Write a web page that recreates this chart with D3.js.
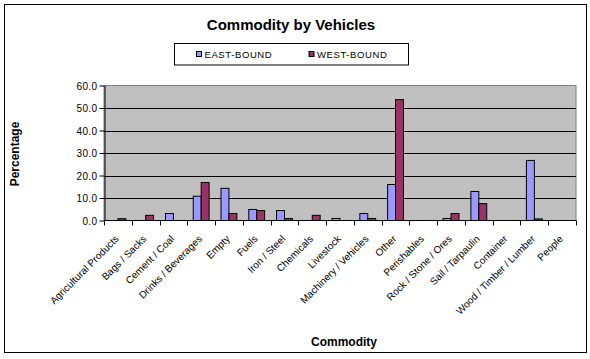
<!DOCTYPE html>
<html><head><meta charset="utf-8">
<script src="https://cdn.jsdelivr.net/npm/d3@7"></script>
<style>
html,body{margin:0;padding:0;background:#fff;}
svg{display:block;font-family:"Liberation Sans",Arial,sans-serif;}
</style></head>
<body>
<svg id="chart" width="590" height="359"></svg>
<script>
const categories = ["Agricultural Products","Bags / Sacks","Cement / Coal","Drinks / Beverages","Empty","Fuels","Iron / Steel","Chemicals","Livestock","Machinery / Vehicles","Other","Perishables","Rock / Stone / Ores","Sail / Tarpaulin","Container","Wood / Timber / Lumber","People"];
const eastBound = [0, 0, 3.1, 10.8, 14.3, 4.9, 4.4, 0, 0.9, 3.1, 16.0, 0, 0.9, 12.9, 0, 26.7, 0];
const westBound = [0.8, 2.3, 0, 16.9, 3.1, 4.4, 0.9, 2.3, 0, 0.9, 53.7, 0, 3.1, 7.5, 0, 0.7, 0];
const seriesNames = ["EAST-BOUND","WEST-BOUND"];
const seriesColors = ["#9999FF","#993366"];
const yTicks = [0,10,20,30,40,50,60];

const svg = d3.select("#chart");
// outer border
svg.append("rect").attr("x",4.5).attr("y",4.5).attr("width",582).attr("height",348)
  .attr("fill","#fff").attr("stroke","#000").attr("stroke-width",1);

const L=104, R=576, T=85.5, B=220.5;
const x0 = d3.scaleBand().domain(categories).range([L,R]).paddingInner(0.4286).paddingOuter(0.2143);
const x1 = d3.scaleBand().domain(seriesNames).range([0,x0.bandwidth()]);
const y = d3.scaleLinear().domain([0,60]).range([B,T]);

// plot area
svg.append("rect").attr("x",L).attr("y",T).attr("width",R-L).attr("height",B-T)
  .attr("fill","#C0C0C0").attr("stroke","#808080").attr("stroke-width",1);

// gridlines
svg.append("g").selectAll("line").data(yTicks.filter(d=>d>0 && d<60)).join("line")
  .attr("x1",L).attr("x2",R).attr("y1",d=>Math.round(y(d))+0.5).attr("y2",d=>Math.round(y(d))+0.5)
  .attr("stroke","#000").attr("stroke-width",1);

// bars
const data = categories.map((c,i)=>({c, vals:[eastBound[i],westBound[i]]}));
const g = svg.append("g");
data.forEach(d=>{
  d.vals.forEach((v,j)=>{
    if(v<=0) return;
    g.append("rect")
      .attr("x", x0(d.c)+x1(seriesNames[j]))
      .attr("y", y(v))
      .attr("width", x1.bandwidth())
      .attr("height", y(0)-y(v))
      .attr("fill", seriesColors[j]).attr("stroke","#000").attr("stroke-width",1);
  });
});

// y axis
const yAxis = d3.axisLeft(y).tickValues(yTicks).tickSize(5).tickSizeOuter(0).tickFormat(d3.format(".1f"));
const ya = svg.append("g").attr("transform",`translate(${L+0.5},0)`).call(yAxis);
ya.select(".domain").attr("stroke","#000");
ya.selectAll("line").attr("stroke","#000");
ya.selectAll("text").attr("font-size","10px").attr("letter-spacing","0.4px").attr("fill","#000").attr("x",-7).attr("dy","0.35em");

// x axis with ticks between categories
const xa = svg.append("g");
xa.append("line").attr("x1",L).attr("x2",R).attr("y1",B).attr("y2",B).attr("stroke","#000");
const step = x0.step();
const bounds = d3.range(categories.length+1).map(i=>L+i*step);
xa.selectAll("line.tick").data(bounds).join("line").attr("class","tick")
  .attr("x1",d=>Math.round(d)+0.5).attr("x2",d=>Math.round(d)+0.5).attr("y1",B).attr("y2",B+5).attr("stroke","#000");
xa.selectAll("text").data(categories).join("text")
  .attr("transform",d=>`translate(${x0(d)+x0.bandwidth()/2+1.5},${B+19}) rotate(-45)`)
  .attr("text-anchor","end").attr("font-size","10px").attr("fill","#000").text(d=>d);

// title
svg.append("text").attr("x",291).attr("y",29.5).attr("text-anchor","middle")
  .attr("font-size","15px").attr("font-weight","bold").text("Commodity by Vehicles");

// axis titles
svg.append("text").attr("transform","translate(19,154) rotate(-90)").attr("text-anchor","middle")
  .attr("font-size","12px").attr("font-weight","bold").text("Percentage");
svg.append("text").attr("x",344).attr("y",346).attr("text-anchor","middle")
  .attr("font-size","12px").attr("font-weight","bold").text("Commodity");

// legend
const lg = svg.append("g");
lg.append("rect").attr("x",174.5).attr("y",43.5).attr("width",234).attr("height",21.5)
  .attr("fill","#fff").attr("stroke","#000");
const legX = [196, 308.5];
seriesNames.forEach((s,i)=>{
  lg.append("rect").attr("x",legX[i]+0.5).attr("y",51.5).attr("width",5).attr("height",5)
    .attr("fill",seriesColors[i]).attr("stroke","#000");
  lg.append("text").attr("x",legX[i]+8.5).attr("y",58).attr("font-size","9.5px")
    .attr("letter-spacing","0.6px").text(s);
});
</script>
</body></html>
